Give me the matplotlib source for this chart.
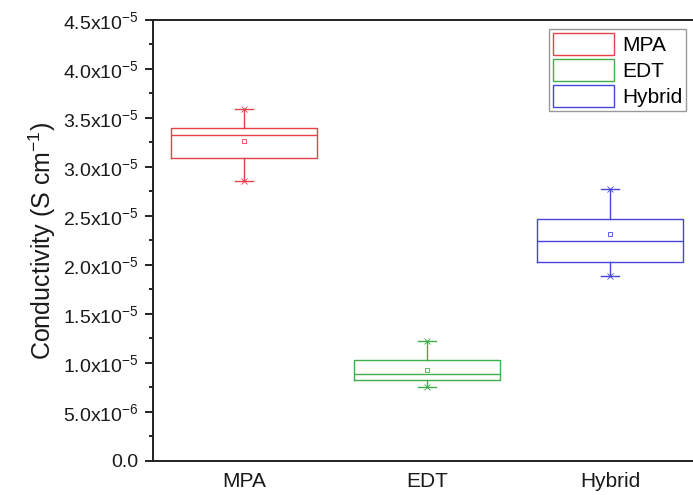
import matplotlib
matplotlib.use('Agg')
import matplotlib.pyplot as plt
from matplotlib.patches import Patch
from matplotlib import ticker

plt.rcParams['font.family'] = ['Liberation Sans', 'DejaVu Sans']
plt.rcParams['mathtext.default'] = 'regular'

# Данные
groups = ['MPA', 'EDT', 'Hybrid']
whis_lo = [2.86e-5, 0.75e-5, 1.89e-5]
q1 = [3.09e-5, 0.823e-5, 2.028e-5]
med = [3.33e-5, 0.891e-5, 2.248e-5]
q3 = [3.395e-5, 1.028e-5, 2.47e-5]
whis_hi = [3.59e-5, 1.224e-5, 2.776e-5]
means = [3.27e-5, 0.93e-5, 2.316e-5]
colors = ['#e6404a', '#40ad48', '#4646dc']

fig = plt.figure(figsize=(6.93, 4.95), dpi=100)
ax = fig.add_axes([0.2203, 0.0687, 0.792, 0.891])

for i in range(len(groups)):
    st = [dict(med=med[i], q1=q1[i], q3=q3[i], whislo=whis_lo[i],
               whishi=whis_hi[i], mean=means[i], fliers=[])]
    c = colors[i]
    ax.bxp(st, positions=[i + 1], widths=0.8, showmeans=True,
           boxprops=dict(color=c, lw=1.0),
           medianprops=dict(color=c, lw=1.0),
           whiskerprops=dict(color=c, lw=1.0),
           capprops=dict(color=c, lw=1.0),
           capwidths=0.1,
           meanprops=dict(marker='s', markersize=3.5, markerfacecolor='white',
                          markeredgecolor=c, markeredgewidth=0.6))
    ax.plot([i + 1, i + 1], [whis_lo[i], whis_hi[i]], ls='none', marker='x',
            ms=4, mew=0.6, color=c)

ax.set_xlim(0.5, 3.5)
ax.set_ylim(0, 4.5e-5)
ax.set_xticks([1, 2, 3])
ax.set_xticklabels(groups, fontsize=15, color='#1a1a1a')
ax.tick_params(axis='x', length=0, pad=8)


def fmt(v, pos):
    if abs(v) < 1e-12:
        return '0.0'
    e = int(f'{v:.1e}'.split('e')[1])
    m = v / 10 ** e
    return f'{m:.1f}x10$^{{{e}}}$'


ax.yaxis.set_major_locator(ticker.MultipleLocator(5e-6))
ax.yaxis.set_minor_locator(ticker.MultipleLocator(2.5e-6))
ax.yaxis.set_major_formatter(ticker.FuncFormatter(fmt))
ax.tick_params(axis='y', which='major', direction='out', length=6, width=1.2,
               labelsize=14, labelcolor='#1a1a1a', pad=4)
ax.tick_params(axis='y', which='minor', direction='out', length=3, width=1.2)
ax.set_ylabel('Conductivity (S cm$^{-1}$)', fontsize=18, color='#1a1a1a',
              labelpad=4)

for s in ['left', 'bottom', 'top']:
    ax.spines[s].set_linewidth(1.4)
    ax.spines[s].set_color('#222222')
ax.spines['right'].set_visible(False)

handles = [Patch(facecolor='white', edgecolor=c, lw=1.0) for c in colors]
leg = ax.legend(handles, groups, loc='upper right', bbox_to_anchor=(0.98, 0.99),
                fontsize=15, handlelength=2.9, handleheight=1.25,
                labelspacing=0.2, borderpad=0.2, handletextpad=0.4,
                borderaxespad=0.2, fancybox=False, framealpha=1)
leg.get_frame().set_edgecolor('#999999')
leg.get_frame().set_linewidth(1.0)

fig.savefig('out.png', dpi=100)
